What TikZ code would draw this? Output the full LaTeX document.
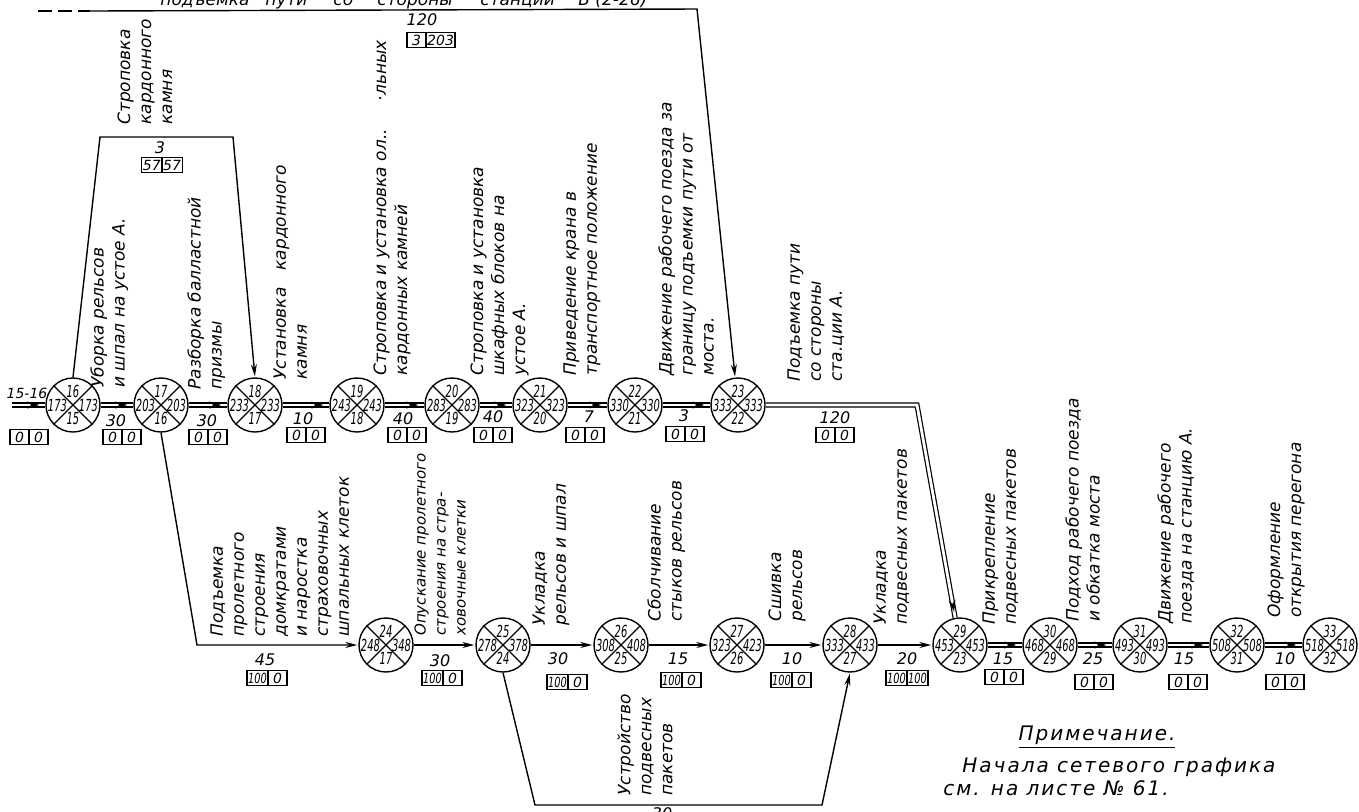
\documentclass[tikz,border=0pt]{standalone}
\usepackage{fontspec}
\setmainfont{DejaVu Sans}[ItalicFont={DejaVu Sans Oblique}]
\usepackage{graphicx}
\usetikzlibrary{arrows.meta,decorations.markings,calc}
\newcommand\nar[1]{\scalebox{0.7}[1]{#1}}
\newcommand\narr[1]{\scalebox{0.6}[1]{#1}}
\newcommand\EvNode[7]{%
  \node[ev] (#1) at (#2,#3) {};
  \draw[evx] (#1.45) -- (#1.225) (#1.135) -- (#1.315);
  \node[evn] (#1-t) at ([shift={(0,-13.5)}]#1.center) {\narr{#4}};
  \node[evn] (#1-l) at ([shift={(-15.5,0)}]#1.center) {\narr{#5}};
  \node[evn] (#1-r) at ([shift={(15.5,0)}]#1.center) {\narr{#6}};
  \node[evn] (#1-b) at ([shift={(0,13.5)}]#1.center) {\narr{#7}};
}
\newcommand\TwoCell[5]{%
  \node[cell, anchor=east] (#1-a) at (#2,#3) {#4};
  \node[cell, anchor=west] (#1-b) at (#2,#3) {#5};
}
\newcommand\EdgeNum[4]{\node[num] (#1) at (#2,#3) {#4};}
\begin{document}
\begin{tikzpicture}[x=0.5pt,y=-0.5pt,
  ev/.style={circle, draw, line width=0.7pt, minimum size=27pt, inner sep=0pt},
  evx/.style={line width=0.6pt},
  evn/.style={inner sep=0pt, font=\fontsize{8.3}{8.3}\selectfont\itshape},
  lbl/.style={rotate=90, anchor=north west, align=left, inner sep=0pt, font=\fontsize{8.5}{10.5}\selectfont\itshape},
  wrd/.style={anchor=base west, inner sep=0pt, font=\fontsize{8.5}{10.5}\selectfont\itshape},
  num/.style={inner sep=0pt, font=\fontsize{8}{8}\selectfont\itshape},
  cell/.style={draw, line width=0.7pt, outer sep=0pt, minimum width=9.5pt, minimum height=7.5pt, inner sep=0.6pt, font=\fontsize{7}{7}\selectfont\itshape},
  dline/.style={double, double distance=1.4pt, line width=0.6pt},
  sline/.style={line width=0.7pt, shorten >=0.5pt, -{Stealth[length=6pt,width=3pt]}},
  tline/.style={line width=0.9pt},
  amark/.style={decoration={markings, mark=at position -3pt with {\arrow{Stealth[length=6pt,width=3.5pt]}}}, postaction={decorate}},
  note/.style={inner sep=0pt, font=\fontsize{10}{12}\selectfont\itshape\addfontfeature{LetterSpace=10}}
]
\useasboundingbox (0,0) rectangle (1359,811);
\fill[white] (0,0) rectangle (1359,811);

% events, upper row
\EvNode{n16}{73}{405}{16}{173}{173}{15}
\EvNode{n17}{161}{405}{17}{203}{203}{16}
\EvNode{n18}{255}{405}{18}{233}{233}{17}
\EvNode{n19}{357}{405}{19}{243}{243}{18}
\EvNode{n20}{452}{405}{20}{283}{283}{19}
\EvNode{n21}{540}{405}{21}{323}{323}{20}
\EvNode{n22}{635}{405}{22}{330}{330}{21}
\EvNode{n23}{738}{405}{23}{333}{333}{22}
% events, lower row
\EvNode{n24}{386}{645}{24}{248}{348}{17}
\EvNode{n25}{503}{645}{25}{278}{378}{24}
\EvNode{n26}{621}{645}{26}{308}{408}{25}
\EvNode{n27}{737}{645}{27}{323}{423}{26}
\EvNode{n28}{850}{645}{28}{333}{433}{27}
\EvNode{n29}{960}{645}{29}{453}{453}{23}
\EvNode{n30}{1050}{645}{30}{468}{468}{29}
\EvNode{n31}{1140}{645}{31}{493}{493}{30}
\EvNode{n32}{1237}{645}{32}{508}{508}{31}
\EvNode{n33}{1330}{645}{33}{518}{518}{32}

% helper coordinates
\coordinate (s0) at (12,405);
\coordinate (c1) at (100,137);
\coordinate (c2) at (233,137);
\coordinate (c3) at (197,645);
\coordinate (c4) at (535,805);
\coordinate (c5) at (822,805);
\coordinate (c6) at (917,405);
\coordinate (t0) at (38,11);
\coordinate (t1) at (90,11);
\coordinate (t2) at (697,9);

% double (critical) connectors
\draw[dline] (s0) -- (n16); \path[amark] (s0) -- (n16);
\foreach \a/\b in {n16/n17,n17/n18,n18/n19,n19/n20,n20/n21,n21/n22,n22/n23,n29/n30,n30/n31,n31/n32,n32/n33}{
  \draw[dline] (\a) -- (\b); \path[amark] (\a) -- (\b);
}
\draw[dline, line join=miter] (n23) -- (c6) -- (n29); \path[amark] (n23) -- (c6) -- (n29);

% single connectors
\foreach \a/\b in {n24/n25,n25/n26,n26/n27,n27/n28,n28/n29}{
  \draw[sline] (\a) -- (\b);
}
\draw[sline] (n17.south) -- (c3) -- (n24);
\draw[sline] (n25.south) -- (c4) -- (c5) -- (n28.south);
\draw[sline] (n16.north) -- (c1) -- (c2) -- (n18.north);
\draw[tline, dash pattern=on 7pt off 3pt] (t0) -- (t1);
\draw[tline, sline] (t1) -- (t2) -- (n23);

% top text (cut by the sheet edge)
\node[wrd] (w1) at (160,5) {подъемка};
\node[wrd] (w2) at (265,5) {пути};
\node[wrd] (w3) at (333,5) {со};
\node[wrd] (w4) at (377,5) {стороны};
\node[wrd] (w5) at (480,5) {станции};
\node[wrd] (w6) at (578,5) {Б (2-26)};

% activity labels
\node[lbl] (L1) at (90,388) {Уборка рельсов\\и шпал на устое А.};
\node[lbl] (L2) at (187,390) {Разборка балластной\\призмы};
\node[lbl] (L3) at (117,125) {Строповка\\кардонного\\камня};
\node[lbl] (L4) at (273,380) {Установка\quad кардонного\\камня};
\node[lbl] (L5) at (373,376) {Строповка и установка ол..\hspace{14pt}·льных\\кардонных камней};
\node[lbl] (L6) at (470,376) {Строповка и установка\\шкафных блоков на\\устое А.};
\node[lbl] (L7) at (563,376) {Приведение крана в\\транспортное положение};
\node[lbl] (L8) at (658,376) {Движение рабочего поезда за\\границу подъемки пути от\\моста.};
\node[lbl] (L9) at (787,382) {Подъемка пути\\со стороны\\ста.ции А.};
\node[lbl] (L10) at (210,637) {Подъемка\\пролетного\\строения\\домкратами\\и наростка\\страховочных\\шпальных клеток};
\node[lbl, font=\fontsize{7.5}{10}\selectfont\itshape] (L11) at (414,636) {Опускание пролетного\\строения на стра-\\ховочные клетки};
\node[lbl] (L12) at (532,626) {Укладка\\рельсов и шпал};
\node[lbl] (L13) at (647,622) {Сболчивание\\стыков рельсов};
\node[lbl] (L14) at (768,622) {Сшивка\\рельсов};
\node[lbl] (L15) at (873,625) {Укладка\\подвесных пакетов};
\node[lbl] (L16) at (982,625) {Прикрепление\\подвесных пакетов};
\node[lbl] (L17) at (1065,622) {Подход рабочего поезда\\и обкатка моста};
\node[lbl] (L18) at (1157,624) {Движение рабочего\\поезда на станцию А.};
\node[lbl] (L19) at (1267,618) {Оформление\\открытия перегона};
\node[lbl] (L20) at (617,796) {Устройство\\подвесных\\пакетов};

% durations and boxes
\EdgeNum{d0}{27}{393}{\fontsize{7}{7}\selectfont 15-16}   \TwoCell{b0}{29}{437}{0}{0}
\EdgeNum{d1}{116}{421}{30}     \TwoCell{b1}{122}{437}{0}{0}
\EdgeNum{d2}{207}{421}{30}     \TwoCell{b2}{208}{437}{0}{0}
\EdgeNum{d3}{303}{419}{10}     \TwoCell{b3}{306}{435}{0}{0}
\EdgeNum{d4}{403}{419}{40}     \TwoCell{b4}{407}{435}{0}{0}
\EdgeNum{d5}{493}{417}{40}     \TwoCell{b5}{493}{435}{0}{0}
\EdgeNum{d6}{589}{417}{7}      \TwoCell{b6}{585}{435}{0}{0}
\EdgeNum{d7}{684}{416}{3}      \TwoCell{b7}{685}{434}{0}{0}
\EdgeNum{d8}{835}{418}{120}    \TwoCell{b8}{835}{435}{0}{0}
\EdgeNum{d9}{160}{148}{3}      \TwoCell{b9}{162}{165}{57}{57}
\EdgeNum{d10}{422}{20}{120}    \TwoCell{b10}{426}{40}{3}{203}
\EdgeNum{d11}{265}{660}{45}    \TwoCell{b11}{268}{678}{\nar{100}}{0}
\EdgeNum{d12}{440}{661}{30}    \TwoCell{b12}{443}{678}{\nar{100}}{0}
\EdgeNum{d13}{558}{659}{30}    \TwoCell{b13}{568}{682}{\nar{100}}{0}
\EdgeNum{d14}{678}{659}{15}    \TwoCell{b14}{682}{680}{\nar{100}}{0}
\EdgeNum{d15}{792}{659}{10}    \TwoCell{b15}{792}{680}{\nar{100}}{0}
\EdgeNum{d16}{907}{659}{20}    \TwoCell{b16}{907}{678}{\nar{100}}{\nar{100}}
\EdgeNum{d17}{1003}{659}{15}   \TwoCell{b17}{1004}{677}{0}{0}
\EdgeNum{d18}{1093}{659}{25}   \TwoCell{b18}{1094}{682}{0}{0}
\EdgeNum{d19}{1184}{659}{15}   \TwoCell{b19}{1188}{682}{0}{0}
\EdgeNum{d20}{1285}{659}{10}   \TwoCell{b20}{1285}{682}{0}{0}
\EdgeNum{d21}{662}{814}{30}

% note
\node[note, anchor=base] (nt0) at (1097,740) {\underline{Примечание.}};
\node[note, anchor=base west] (nt1) at (962,772) {Начала сетевого графика};
\node[note, anchor=base west] (nt2) at (943,795) {см. на листе № 61.};
\end{tikzpicture}
\end{document}
